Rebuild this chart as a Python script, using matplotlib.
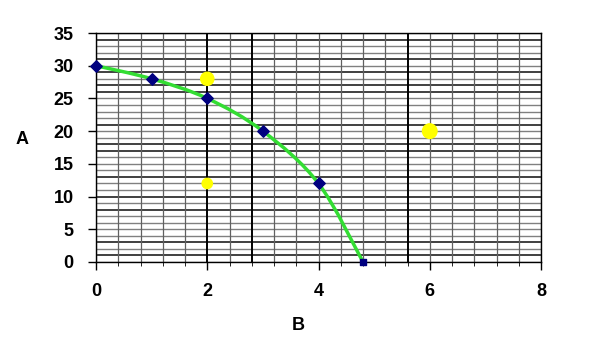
import numpy as np
import matplotlib.pyplot as plt
from matplotlib.path import Path
from matplotlib.patches import PathPatch

# curve points (blue)
b_vals = [0, 1, 2, 3, 4, 4.8]
a_vals = [30, 28, 25, 20, 12, 0]
# yellow points
yb = [2, 2, 6]
ya = [28, 12, 20]
ysize = [90, 55, 110]

plt.rcParams['font.family'] = ['Liberation Sans', 'DejaVu Sans']

fig = plt.figure(figsize=(6.05, 3.55), dpi=100)
ax = fig.add_axes([96/605, 1-262/355, 445/605, 229/355])

# grid: horizontal every 1 unit, vertical every 0.4 unit (irregular darkness like the scan)
heavy_y = {1, 3, 8, 10, 13, 17, 18, 21, 26, 27, 29, 31, 34}
for yv in range(0, 36):
    ax.axhline(yv, color='#202020' if yv in heavy_y else '#808080',
               lw=1.2 if yv in heavy_y else 1.0, zorder=1)
heavy_x = {5, 7, 14}
for i in range(0, 21):
    ax.axvline(i*0.4, color='black' if i in heavy_x else '#606060',
               lw=1.4 if i in heavy_x else 0.9, zorder=1)

# smooth green line (Catmull-Rom as cubic Bezier)
pts = np.column_stack([b_vals, a_vals]).astype(float)
verts = [tuple(pts[0])]
codes = [Path.MOVETO]
n = len(pts)
for i in range(n - 1):
    p0 = pts[i-1] if i > 0 else pts[i]
    p1 = pts[i]
    p2 = pts[i+1]
    p3 = pts[i+2] if i + 2 < n else pts[i+1]
    c1 = p1 + (p2 - p0) / 6.0
    c2 = p2 - (p3 - p1) / 6.0
    verts += [tuple(c1), tuple(c2), tuple(p2)]
    codes += [Path.CURVE4] * 3
ax.add_patch(PathPatch(Path(verts, codes), fill=False, edgecolor='#33dd33', lw=2.5, zorder=3))

ax.scatter(b_vals[:-1], a_vals[:-1], marker='D', s=34, color='#000080', zorder=4, clip_on=False)
ax.scatter(b_vals[-1:], a_vals[-1:], marker='s', s=18, color='#000080', zorder=4, clip_on=False)
ax.scatter(yb, ya, s=ysize, color='#ffff00', zorder=4)

ax.set_xlim(0, 8)
ax.set_ylim(0, 35)
ax.set_xticks([0, 2, 4, 6, 8])
ax.set_yticks(range(0, 36, 5))
ax.set_xticks(np.arange(0, 8.01, 0.4), minor=True)
ax.tick_params(axis='both', which='major', direction='out', length=6, width=1,
               labelsize=13)
ax.tick_params(axis='x', which='minor', direction='out', length=3)
ax.tick_params(axis='y', which='minor', left=False)
ax.yaxis.set_tick_params(pad=10)
ax.xaxis.set_tick_params(pad=9)
ax.set_xticklabels(['0', '2', '4', '6', '8'])
ax.set_yticklabels([str(v) for v in range(0, 36, 5)])
for lab in ax.get_xticklabels() + ax.get_yticklabels():
    lab.set_fontweight('bold')
for s in ax.spines.values():
    s.set_color('black')
    s.set_linewidth(1.0)

fig.text(298/605, 1-325/355, 'B', fontsize=13, fontweight='bold', ha='center', va='center')
fig.text(22/605, 1-140/355, 'A', fontsize=13, fontweight='bold', ha='center', va='center')

fig.savefig('out.png', dpi=100)
